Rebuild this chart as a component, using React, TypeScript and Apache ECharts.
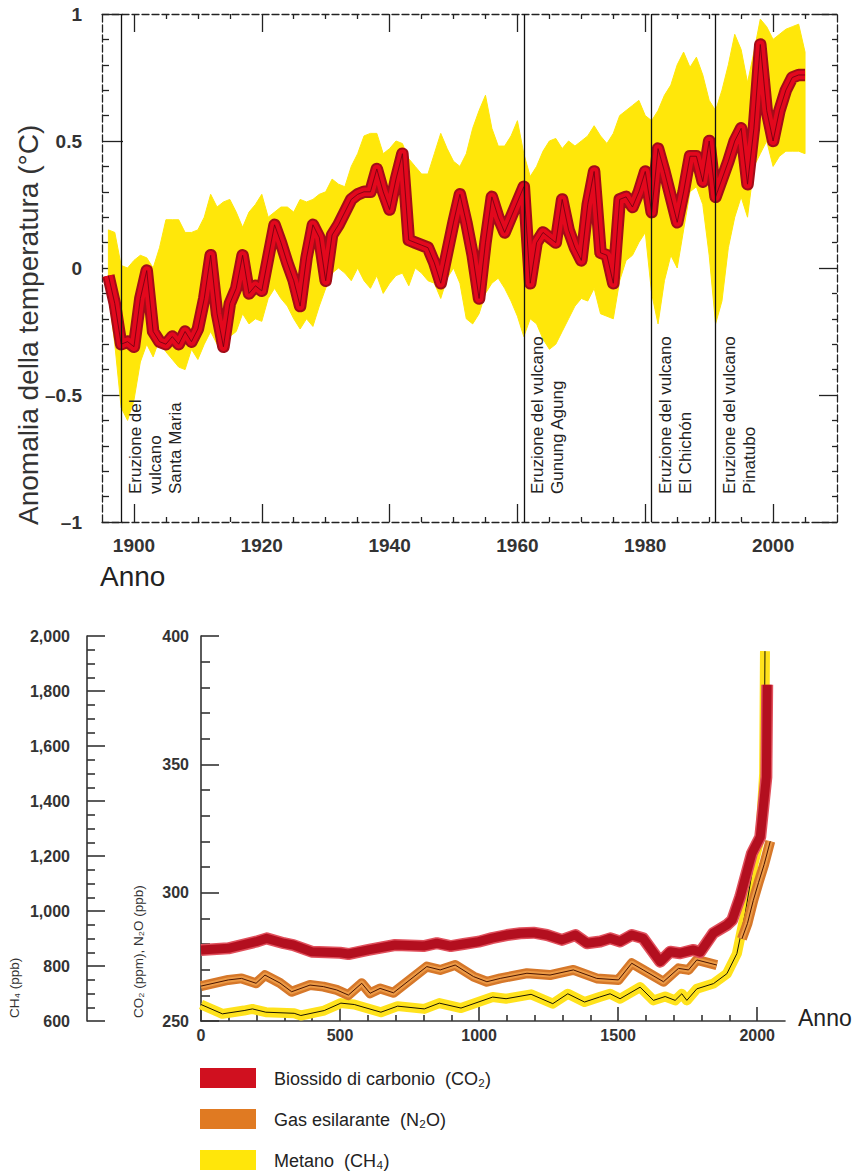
import React, { useEffect, useRef } from 'react';
import * as echarts from 'echarts';

const FONT = 'Liberation Sans, Arial, Helvetica, sans-serif';

// ---------- Top chart: temperature anomaly 1896-2005 ----------
const tempStartYear = 1896;
const tempAnomaly = [
  -0.03, -0.14, -0.30, -0.29, -0.31, -0.12, -0.01, -0.25, -0.29, -0.30,
  -0.27, -0.30, -0.25, -0.29, -0.24, -0.12, 0.05, -0.18, -0.31, -0.14,
  -0.08, 0.05, -0.10, -0.07, -0.09, 0.04, 0.17, 0.10, 0.02, -0.05,
  -0.15, 0.04, 0.17, 0.12, -0.05, 0.13, 0.17, 0.22, 0.27, 0.29,
  0.30, 0.30, 0.39, 0.30, 0.23, 0.35, 0.45, 0.11, 0.10, 0.09,
  0.08, 0.02, -0.06, 0.06, 0.18, 0.29, 0.18, 0.05, -0.12, 0.10,
  0.28, 0.20, 0.14, 0.20, 0.26, 0.32, -0.06, 0.10, 0.14, 0.12,
  0.10, 0.27, 0.15, 0.08, 0.03, 0.25, 0.38, 0.06, 0.05, -0.06,
  0.27, 0.28, 0.24, 0.30, 0.38, 0.22, 0.47, 0.38, 0.28, 0.18,
  0.30, 0.44, 0.44, 0.34, 0.50, 0.28, 0.35, 0.42, 0.50, 0.55,
  0.33, 0.55, 0.88, 0.62, 0.50, 0.62, 0.70, 0.75, 0.76, 0.76,
];
const bandUpper = [
  0.15, 0.14, 0.01, 0.00, 0.03, 0.05, 0.04, 0.00, 0.08, 0.19,
  0.19, 0.19, 0.14, 0.14, 0.15, 0.20, 0.29, 0.24, 0.26, 0.27,
  0.22, 0.16, 0.22, 0.25, 0.29, 0.20, 0.22, 0.24, 0.24, 0.22,
  0.27, 0.26, 0.27, 0.29, 0.30, 0.35, 0.33, 0.32, 0.40, 0.45,
  0.52, 0.53, 0.53, 0.45, 0.47, 0.50, 0.49, 0.43, 0.40, 0.37,
  0.37, 0.45, 0.53, 0.47, 0.42, 0.40, 0.45, 0.55, 0.62, 0.68,
  0.55, 0.48, 0.48, 0.52, 0.58, 0.45, 0.36, 0.40, 0.46, 0.50,
  0.51, 0.47, 0.50, 0.48, 0.50, 0.52, 0.56, 0.52, 0.49, 0.53,
  0.60, 0.62, 0.64, 0.66, 0.60, 0.58, 0.62, 0.68, 0.72, 0.80,
  0.85, 0.79, 0.83, 0.76, 0.66, 0.62, 0.70, 0.80, 0.92, 0.86,
  0.73, 0.85, 0.98, 0.95, 0.90, 0.92, 0.94, 0.95, 0.96, 0.85,
];
const bandLower = [
  -0.10, -0.30, -0.55, -0.60, -0.52, -0.37, -0.30, -0.35, -0.28, -0.33,
  -0.36, -0.39, -0.40, -0.32, -0.36, -0.30, -0.25, -0.30, -0.33, -0.27,
  -0.25, -0.18, -0.22, -0.20, -0.21, -0.12, -0.08, -0.12, -0.15, -0.20,
  -0.24, -0.20, -0.23, -0.15, -0.08, -0.02, 0.00, -0.02, -0.05, 0.00,
  -0.05, -0.08, -0.03, -0.10, -0.06, -0.03, -0.02, -0.07, 0.00, -0.02,
  -0.05, -0.06, -0.12, -0.04, 0.00, -0.06, -0.20, -0.22, -0.18, -0.10,
  -0.06, -0.04, -0.08, -0.13, -0.19, -0.27, -0.20, -0.22, -0.28, -0.32,
  -0.30, -0.25, -0.20, -0.15, -0.12, -0.13, -0.08, -0.18, -0.19, -0.20,
  -0.05, 0.03, 0.05, 0.10, 0.14, -0.10, -0.22, -0.05, 0.05, 0.00,
  0.15, 0.30, 0.32, 0.25, 0.05, -0.22, -0.13, 0.08, 0.20, 0.28,
  0.20, 0.40, 0.45, 0.50, 0.40, 0.44, 0.46, 0.46, 0.46, 0.45,
];
const tempYears = tempAnomaly.map((_, i) => tempStartYear + i);

const tempXMajor = [1900, 1920, 1940, 1960, 1980, 2000];
const tempXMinor = [1905, 1910, 1915, 1925, 1930, 1935, 1945, 1950, 1955, 1965, 1970, 1975, 1985, 1990, 1995, 2005];

const volcanoYears = [1898, 1961, 1981, 1991];
const volcanoLabels = [
  ['Eruzione del', 'vulcano', 'Santa Maria'],
  ['Eruzione del vulcano', 'Gunung Agung'],
  ['Eruzione del vulcano', 'El Chichón'],
  ['Eruzione del vulcano', 'Pinatubo'],
];

// ---------- Bottom chart: greenhouse gases, year 0 - 2005 ----------
const co2Data = [
  [0, 277.7], [98, 278.3], [198, 280.9], [236, 282.2], [298, 280.3], [332, 279.6],
  [398, 277.0], [500, 276.6], [530, 276.1], [602, 277.7], [698, 279.6], [800, 279.2],
  [848, 280.3], [898, 279.2], [944, 280.0], [998, 280.9], [1046, 282.3], [1100, 283.5],
  [1148, 284.2], [1196, 284.4], [1244, 283.5], [1298, 281.6], [1346, 283.5], [1388, 280.3],
  [1436, 281.0], [1471, 282.2], [1507, 281.0], [1549, 283.5], [1590, 282.2], [1651, 273.1],
  [1687, 277.0], [1723, 276.4], [1771, 277.7], [1795, 276.8], [1842, 284.2], [1891, 287.4],
  [1910, 289.3], [1939, 298.4], [1981, 315.3], [2011, 321.7], [2033, 345.0], [2036, 381.0],
];
const n2oData = [
  [0, 263.6], [98, 266.0], [146, 266.6], [198, 264.7], [230, 267.9], [284, 264.8],
  [326, 261.4], [392, 264.0], [440, 263.4], [488, 262.1], [530, 260.1], [578, 264.7],
  [608, 260.8], [644, 262.7], [692, 261.0], [812, 271.2], [860, 269.9], [914, 271.8],
  [980, 267.3], [1028, 265.3], [1076, 266.6], [1172, 268.6], [1255, 267.9], [1339, 269.9],
  [1423, 266.6], [1501, 266.0], [1549, 272.5], [1590, 269.9], [1663, 265.3], [1717, 270.5],
  [1753, 269.9], [1783, 273.8], [1855, 271.8], [1900, null],
  [1945, 282.0], [1965, 288.0], [1986, 297.0], [2005, 304.0], [2025, 311.0], [2047, 320.0],
];
const ch4Data = [
  [0, 660], [77, 626], [155, 638], [185, 644], [233, 632], [335, 628], [359, 620],
  [443, 638], [503, 665], [551, 660], [647, 632], [707, 654], [803, 644], [857, 665],
  [935, 647], [1049, 687], [1097, 681], [1187, 697], [1265, 663], [1319, 699],
  [1379, 669], [1433, 687], [1471, 699], [1507, 681], [1579, 723], [1627, 675],
  [1669, 689], [1705, 675], [1729, 699], [1747, 675], [1783, 717], [1843, 736],
  [1891, 772], [1927, 845], [1957, 991], [1987, 1173], [2011, 1270], [2025, 1500], [2028, 1945],
];
const gasXMajor = [0, 500, 1000, 1500, 2000];
const gasXMinor = [100, 200, 300, 400, 600, 700, 800, 900, 1100, 1200, 1300, 1400, 1600, 1700, 1800, 1900];

const legendItems = [
  { label: 'Biossido di carbonio  (CO₂)', color: '#d0101f' },
  { label: 'Gas esilarante  (N₂O)', color: '#e07a22' },
  { label: 'Metano  (CH₄)', color: '#ffe60a' },
];

const AX = '#222';
const dashed = { color: AX, width: 1.3, type: [7, 3] as any };
const tickStyle = { color: AX, width: 1.3 };
const lineBase = { type: 'line', symbol: 'none', silent: true, animation: false, connectNulls: false };
const plain = (v: number) => String(v);

function buildOption() {
  const pairs = (vals: number[]) => tempYears.map((y, i) => [y, vals[i]]);
  const round = { join: 'round', cap: 'butt' };
  return {
    animation: false,
    backgroundColor: '#ffffff',
    textStyle: { fontFamily: FONT },
    grid: [
      { left: 102, top: 14, width: 735, height: 508, show: false },
      { left: 201, top: 636, width: 584, height: 385, show: false },
    ],
    xAxis: [
      {
        type: 'value', gridIndex: 0, min: 1895, max: 2010, position: 'bottom',
        axisLine: { show: true, onZero: false, lineStyle: dashed },
        axisTick: { show: true, inside: true, length: 18, customValues: tempXMajor, lineStyle: tickStyle },
        axisLabel: { customValues: tempXMajor, formatter: plain, margin: 14, fontSize: 19, fontWeight: 'bold', color: '#333', fontFamily: FONT },
        splitLine: { show: false },
      },
      {
        type: 'value', gridIndex: 0, min: 1895, max: 2010, position: 'bottom',
        axisLine: { show: false, onZero: false },
        axisTick: { show: true, inside: true, length: 5, customValues: tempXMinor, lineStyle: tickStyle },
        axisLabel: { show: false }, splitLine: { show: false },
      },
      {
        type: 'value', gridIndex: 0, min: 1895, max: 2010, position: 'top',
        axisLine: { show: true, onZero: false, lineStyle: dashed },
        axisTick: { show: true, inside: true, length: 18, customValues: tempXMajor, lineStyle: tickStyle },
        axisLabel: { show: false }, splitLine: { show: false },
      },
      {
        type: 'value', gridIndex: 0, min: 1895, max: 2010, position: 'top',
        axisLine: { show: false, onZero: false },
        axisTick: { show: true, inside: true, length: 5, customValues: tempXMinor, lineStyle: tickStyle },
        axisLabel: { show: false }, splitLine: { show: false },
      },
      {
        type: 'value', gridIndex: 1, min: 0, max: 2100, position: 'bottom',
        axisLine: { show: true, onZero: false, lineStyle: { color: '#333', width: 1.6 } },
        axisTick: { show: true, inside: true, length: 14, customValues: gasXMajor, lineStyle: { color: '#333', width: 1.6 } },
        axisLabel: { customValues: gasXMajor, formatter: plain, margin: 6, fontSize: 16, fontWeight: 'bold', color: '#333', fontFamily: FONT },
        splitLine: { show: false },
      },
      {
        type: 'value', gridIndex: 1, min: 0, max: 2100, position: 'bottom',
        axisLine: { show: false, onZero: false },
        axisTick: { show: true, inside: true, length: 6, customValues: gasXMinor, lineStyle: { color: '#333', width: 1.6 } },
        axisLabel: { show: false }, splitLine: { show: false },
      },
    ],
    yAxis: [
      {
        type: 'value', gridIndex: 0, min: -1, max: 1, interval: 0.5, position: 'left',
        axisLine: { show: true, onZero: false, lineStyle: dashed },
        axisTick: { show: true, inside: true, length: 21, lineStyle: tickStyle },
        minorTick: { show: true, splitNumber: 5, length: 7, lineStyle: tickStyle },
        axisLabel: {
          margin: 20, fontSize: 19, fontWeight: 'bold', color: '#333', fontFamily: FONT,
          formatter: (v: number) => (v < 0 ? '–' + String(Math.abs(v)) : String(v)),
        },
        splitLine: { show: false },
      },
      {
        type: 'value', gridIndex: 0, min: -1, max: 1, interval: 0.5, position: 'right',
        axisLine: { show: true, onZero: false, lineStyle: dashed },
        axisTick: { show: true, inside: true, length: 18, lineStyle: tickStyle },
        minorTick: { show: true, splitNumber: 5, length: 5, lineStyle: tickStyle },
        axisLabel: { show: false }, splitLine: { show: false },
      },
      {
        type: 'value', gridIndex: 1, min: 250, max: 400, interval: 50, position: 'left',
        axisLine: { show: true, onZero: false, lineStyle: { color: '#333', width: 1.6 } },
        axisTick: { show: true, inside: true, length: 18, lineStyle: { color: '#333', width: 1.6 } },
        minorTick: { show: true, splitNumber: 5, length: 9, lineStyle: { color: '#333', width: 1.6 } },
        axisLabel: { margin: 12, fontSize: 16, fontWeight: 'bold', color: '#333', fontFamily: FONT },
        splitLine: { show: false },
      },
      {
        type: 'value', gridIndex: 1, min: 600, max: 2000, interval: 200, position: 'left', offset: 114,
        axisLine: { show: true, onZero: false, lineStyle: { color: '#333', width: 1.6 } },
        axisTick: { show: true, inside: true, length: 18, lineStyle: { color: '#333', width: 1.6 } },
        minorTick: { show: true, splitNumber: 4, length: 8, lineStyle: { color: '#333', width: 1.6 } },
        axisLabel: {
          margin: 17, fontSize: 16, fontWeight: 'bold', color: '#333', fontFamily: FONT,
          formatter: (v: number) => v.toLocaleString('en-US'),
        },
        splitLine: { show: false },
      },
    ],
    series: [
      {
        type: 'custom', name: 'band', xAxisIndex: 0, yAxisIndex: 0, z: 1, silent: true,
        data: [[tempYears[0], bandUpper[0]]],
        encode: { x: 0, y: 1 },
        renderItem: (_params: any, api: any) => {
          const pts: number[][] = [];
          tempYears.forEach((y, i) => pts.push(api.coord([y, bandUpper[i]])));
          for (let i = tempYears.length - 1; i >= 0; i--) pts.push(api.coord([tempYears[i], bandLower[i]]));
          return { type: 'polygon', shape: { points: pts }, style: { fill: '#ffe70a', stroke: '#ffe70a', lineWidth: 1 } };
        },
      },
      {
        ...lineBase, name: 'tempOuter', xAxisIndex: 0, yAxisIndex: 0, data: pairs(tempAnomaly),
        lineStyle: { color: '#a30c18', width: 12.5, ...round }, z: 2,
      },
      {
        ...lineBase, name: 'tempInner', xAxisIndex: 0, yAxisIndex: 0, data: pairs(tempAnomaly),
        lineStyle: { color: '#e3081d', width: 8.5, ...round }, z: 3,
      },
      {
        ...lineBase, name: 'tempCore', xAxisIndex: 0, yAxisIndex: 0, data: pairs(tempAnomaly),
        lineStyle: { color: '#6a0010', width: 1, opacity: 0.8, ...round }, z: 4,
        markLine: {
          silent: true, symbol: ['none', 'none'], label: { show: false },
          lineStyle: { color: '#111', width: 1.3, type: 'solid', opacity: 1 },
          emphasis: { disabled: true },
          data: volcanoYears.map((v) => ({ xAxis: v })),
        },
      },
      {
        ...lineBase, name: 'ch4Band', xAxisIndex: 4, yAxisIndex: 3, data: ch4Data,
        lineStyle: { color: '#ffe21c', width: 10, ...round }, z: 2,
      },
      {
        ...lineBase, name: 'ch4Core', xAxisIndex: 4, yAxisIndex: 3, data: ch4Data,
        lineStyle: { color: '#1a1400', width: 1, ...round }, z: 3,
      },
      {
        ...lineBase, name: 'n2oBand', xAxisIndex: 4, yAxisIndex: 2, data: n2oData,
        lineStyle: { color: '#d6782a', width: 10, ...round }, z: 4,
      },
      {
        ...lineBase, name: 'n2oInner', xAxisIndex: 4, yAxisIndex: 2, data: n2oData,
        lineStyle: { color: '#ec9a46', width: 5, ...round }, z: 5,
      },
      {
        ...lineBase, name: 'n2oCore', xAxisIndex: 4, yAxisIndex: 2, data: n2oData,
        lineStyle: { color: '#4a1500', width: 1, ...round }, z: 6,
      },
      {
        ...lineBase, name: 'co2Glow', xAxisIndex: 4, yAxisIndex: 2, data: co2Data,
        lineStyle: { color: '#e0505c', width: 12, ...round }, z: 7,
      },
      {
        ...lineBase, name: 'co2Band', xAxisIndex: 4, yAxisIndex: 2, data: co2Data,
        lineStyle: { color: '#b30f1f', width: 9, ...round }, z: 8,
      },
    ],
  };
}

function buildGraphics(chart: any) {
  const g: any[] = [];
  const txt = (x: number, y: number, text: string, size: number, opts: any = {}) => ({
    type: 'text', x, y, rotation: opts.rotation || 0, z: 20, silent: true,
    style: {
      text, fontSize: size, fontFamily: FONT, fontWeight: opts.weight || 'normal',
      fill: opts.fill || '#222', align: opts.align || 'left', verticalAlign: opts.va || 'middle',
      lineHeight: opts.lineHeight,
    },
  });
  // top chart titles
  g.push(txt(28, 525, 'Anomalia della temperatura (°C)', 28, { rotation: Math.PI / 2, fill: '#333' }));
  g.push(txt(100, 576, 'Anno', 28, { fill: '#222' }));
  // volcano labels
  volcanoYears.forEach((yr, i) => {
    const px = chart.convertToPixel({ xAxisIndex: 0 }, yr);
    g.push(txt(px + 4, 494, volcanoLabels[i].join('\n'), 17, {
      rotation: Math.PI / 2, va: 'top', lineHeight: 20, fill: '#222',
    }));
  });
  // bottom chart titles
  g.push(txt(14, 1018, 'CH₄ (ppb)', 13.5, { rotation: Math.PI / 2, fill: '#333' }));
  g.push(txt(138, 1018, 'CO₂ (ppm), N₂O (ppb)', 13.5, { rotation: Math.PI / 2, fill: '#333' }));
  g.push(txt(798, 1018, 'Anno', 23, { fill: '#222' }));
  // legend
  legendItems.forEach((it, i) => {
    const top = 1068 + i * 41;
    g.push({ type: 'rect', z: 20, silent: true, shape: { x: 200, y: top, width: 56, height: 20 }, style: { fill: it.color } });
    g.push(txt(274, top + 11, it.label, 18, { fill: '#222' }));
  });
  return g;
}

export default function App() {
  const ref = useRef<HTMLDivElement>(null);
  useEffect(() => {
    document.body.style.margin = '0';
    const chart = echarts.init(ref.current as HTMLDivElement, null, { renderer: 'svg' });
    chart.setOption(buildOption() as any);
    chart.setOption({ graphic: buildGraphics(chart) } as any);
    return () => chart.dispose();
  }, []);
  return <div ref={ref} style={{ width: 852, height: 1173 }} />;
}
